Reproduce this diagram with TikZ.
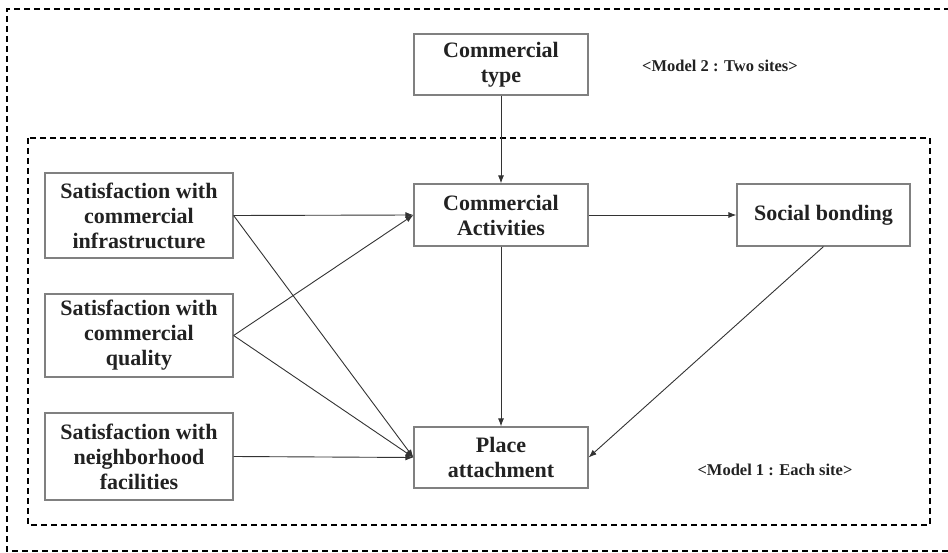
\documentclass[tikz,border=0pt]{standalone}
\usepackage{fontspec}
\setmainfont{Liberation Serif}
\usetikzlibrary{arrows.meta}
\definecolor{boxgray}{HTML}{808080}
\definecolor{txt}{HTML}{222222}
\definecolor{arr}{HTML}{333333}
\begin{document}
\begin{tikzpicture}[x=1pt,y=-1pt,
  box/.style={draw=boxgray, line width=1.2pt, fill=white, align=center, inner sep=0pt, text=txt,
    font=\fontsize{22}{25}\selectfont\bfseries},
  conn/.style={draw=arr, line width=0.9pt, -{Latex[length=8pt,width=6pt]}},
  frame/.style={draw=black, line width=1.3pt, dash pattern=on 6pt off 4pt},
  lab/.style={font=\fontsize{16.5}{19}\selectfont\bfseries, text=txt, inner sep=0pt}
]
\useasboundingbox (0,0) rectangle (948,553);
\clip (0,0) rectangle (948,553);
\draw[frame] (960,9) -- (7,9) -- (7,551) -- (960,551);
\draw[frame] (28,138) rectangle (930,525);

\node[box, minimum width=174pt, minimum height=61pt] (ct) at (501,64.5) {Commercial\\type};
\node[box, minimum width=174pt, minimum height=62pt] (ca) at (501,215) {Commercial\\Activities};
\node[box, minimum width=173pt, minimum height=62pt] (sb) at (823.5,215) {Social bonding};
\node[box, minimum width=188pt, minimum height=85pt] (infra) at (139,215.5) {Satisfaction with\\commercial\\infrastructure};
\node[box, minimum width=188pt, minimum height=83pt] (qual) at (139,335.5) {Satisfaction with\\commercial\\quality};
\node[box, minimum width=188pt, minimum height=87pt] (neigh) at (139,456.5) {Satisfaction with\\neighborhood\\facilities};
\node[box, minimum width=174pt, minimum height=61pt] (pa) at (501,457.5) {Place\\attachment};

\node[lab] (m2) at (720,66) {<Model 2 : Two sites>};
\node[lab] (m1) at (775,470) {<Model 1 : Each site>};

\draw[conn] (ct.south) -- (ca.north);
\draw[conn] (infra.east) -- (ca.west);
\draw[conn] (qual.east) -- (ca.west);
\draw[conn] (infra.east) -- (pa.west);
\draw[conn] (qual.east) -- (pa.west);
\draw[conn] (neigh.east) -- (pa.west);
\draw[conn] (ca.east) -- (sb.west);
\draw[conn] (ca.south) -- (pa.north);
\draw[conn] (sb.south) -- (pa.east);
\end{tikzpicture}
\end{document}
